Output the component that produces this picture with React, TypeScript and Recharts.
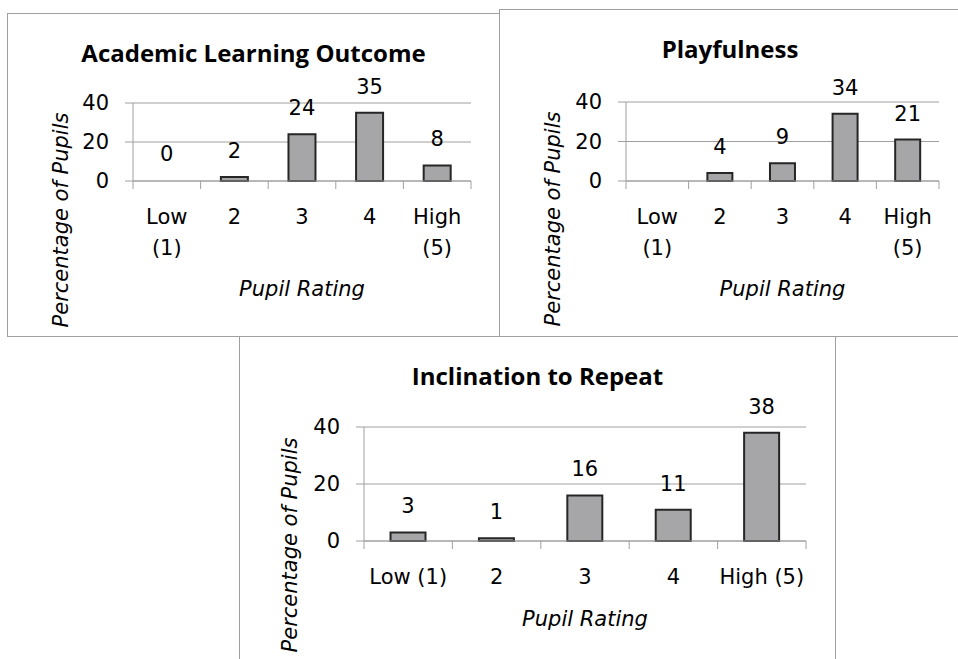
import React from "react";
import { BarChart, Bar, XAxis, YAxis, CartesianGrid, LabelList, Cell } from "recharts";

// pupil rating categories, two-line form for the narrow top charts
const ratingsTwoLine = ["Low\n(1)", "2", "3", "4", "High\n(5)"];
const ratingsOneLine = ["Low (1)", "2", "3", "4", "High (5)"];

// percentage of pupils per rating
const academicValues = [0, 2, 24, 35, 8];
const playfulnessValues = [null, 4, 9, 34, 21];
const repeatValues = [3, 1, 16, 11, 38];

const yTicks = [0, 20, 40];

const FONT = '"DejaVu Sans", sans-serif';
const TITLE_FONT = '"Open Sans", sans-serif';
const FS = 21;
const GRID = "#a0a0a0";
const BAR_FILL = "#a6a6a8";
const BAR_STROKE = "#262626";
const TICK = 8;

interface PanelProps {
  title: string;
  categories: string[];
  values: (number | null)[];
  left: number;
  top: number;
  width: number;
  height: number;
  plotLeft: number;
  plotRight: number;
  plotTop: number;
  plotBottom: number;
  xLabelDy: number;
  yLabelX: number;
  yLabelY: number;
}

function RatingTick(props: any) {
  const { x, y, payload, index, half, count } = props;
  const lines = String(payload.value).split("\n");
  const h = payload.offset ?? half;
  return (
    <g>
      <line x1={x - h} x2={x - h} y1={y - TICK} y2={y} stroke={GRID} />
      {index === count - 1 && (
        <line x1={x + h} x2={x + h} y1={y - TICK} y2={y} stroke={GRID} />
      )}
      <text
        x={x}
        y={y + 35}
        textAnchor="middle"
        fill="#000"
        fontSize={FS}
        fontFamily={FONT}
      >
        {lines.map((l, i) => (
          <tspan key={i} x={x} dy={i === 0 ? 0 : 31}>
            {l}
          </tspan>
        ))}
      </text>
    </g>
  );
}

function Panel(p: PanelProps) {
  const data = p.categories.map((c, i) => ({ rating: c, value: p.values[i] }));
  const half = (p.plotRight - p.plotLeft) / p.categories.length / 2;
  const cx = (p.plotLeft + p.plotRight) / 2;
  return (
    <div
      style={{
        position: "absolute",
        left: p.left,
        top: p.top,
        width: p.width,
        height: p.height,
        border: `1px solid ${GRID}`,
        boxSizing: "border-box",
        background: "#fff",
      }}
    >
      <div
        style={{
          position: "absolute",
          left: -1,
          top: 27,
          width: p.width,
          textAlign: "center",
          fontFamily: TITLE_FONT,
          fontWeight: 700,
          fontSize: 24,
          lineHeight: "24px",
          color: "#000",
        }}
      >
        {p.title}
      </div>
      <div style={{ position: "absolute", left: -1, top: -1 }}>
        <BarChart
          width={p.width}
          height={p.height}
          data={data}
          margin={{ top: p.plotTop, right: p.width - p.plotRight, bottom: 0, left: 0 }}
          barCategoryGap="30%"
        >
          <CartesianGrid horizontal vertical={false} stroke={GRID} />
          <XAxis
            dataKey="rating"
            height={p.height - p.plotBottom}
            interval={0}
            tickLine={false}
            tickSize={TICK}
            tickMargin={0}
            axisLine={{ stroke: GRID }}
            tick={(t: any) => (
              <RatingTick {...t} half={half} count={p.categories.length} />
            )}
            label={() => (
              <text
                x={cx}
                y={p.plotBottom + p.xLabelDy}
                dy="0.36em"
                textAnchor="middle"
                fontStyle="italic"
                fontSize={FS}
                fontFamily={FONT}
                fill="#000"
              >
                Pupil Rating
              </text>
            )}
          />
          <YAxis
            width={p.plotLeft}
            domain={[0, 40]}
            ticks={yTicks}
            tickSize={TICK}
            tickMargin={16}
            axisLine={{ stroke: GRID }}
            tickLine={{ stroke: GRID }}
            tick={{ fill: "#000", fontSize: FS, fontFamily: FONT }}
            label={() => (
              <text
                transform={`translate(${p.yLabelX}, ${p.yLabelY}) rotate(-90)`}
                dy="0.36em"
                textAnchor="middle"
                fontStyle="italic"
                fontSize={FS}
                fontFamily={FONT}
                fill="#000"
              >
                Percentage of Pupils
              </text>
            )}
          />
          <Bar
            dataKey="value"
            fill={BAR_FILL}
            stroke={BAR_STROKE}
            strokeWidth={2}
            minPointSize={1}
            isAnimationActive={false}
          >
            {data.map((d, i) => (
              <Cell
                key={`cell-${i}`}
                fill={d.value ? BAR_FILL : "none"}
                stroke={d.value ? BAR_STROKE : "none"}
              />
            ))}
            <LabelList
              dataKey="value"
              position="top"
              offset={19}
              fill="#000"
              fontSize={FS}
              fontFamily={FONT}
            />
          </Bar>
        </BarChart>
      </div>
    </div>
  );
}

export default function App() {
  return (
    <div
      style={{
        position: "absolute",
        left: 0,
        top: 0,
        width: 958,
        height: 659,
        overflow: "hidden",
        background: "#fff",
      }}
    >
      <Panel
        title="Academic Learning Outcome"
        categories={ratingsTwoLine}
        values={academicValues}
        left={7}
        top={13}
        width={493}
        height={324}
        plotLeft={126}
        plotRight={464}
        plotTop={90}
        plotBottom={168}
        xLabelDy={107}
        yLabelX={53}
        yLabelY={207}
      />
      <Panel
        title="Playfulness"
        categories={ratingsTwoLine}
        values={playfulnessValues}
        left={499}
        top={9}
        width={462}
        height={328}
        plotLeft={127}
        plotRight={440}
        plotTop={93}
        plotBottom={172}
        xLabelDy={107}
        yLabelX={53}
        yLabelY={210}
      />
      <Panel
        title="Inclination to Repeat"
        categories={ratingsOneLine}
        values={repeatValues}
        left={239}
        top={336}
        width={597}
        height={340}
        plotLeft={125}
        plotRight={567}
        plotTop={91}
        plotBottom={205}
        xLabelDy={77}
        yLabelX={50}
        yLabelY={209}
      />
    </div>
  );
}
